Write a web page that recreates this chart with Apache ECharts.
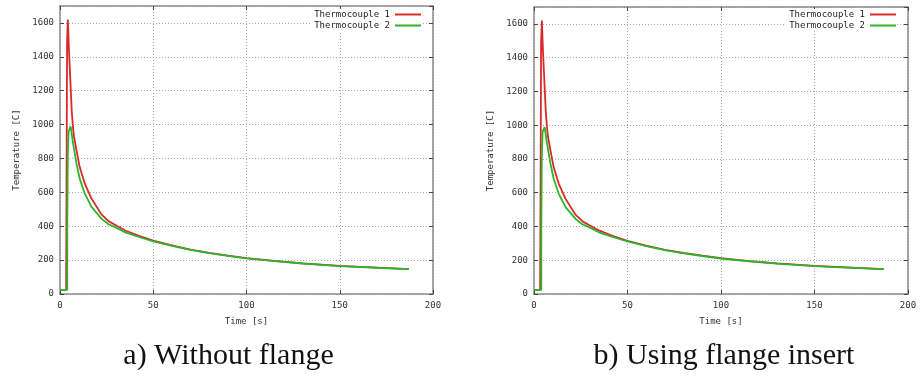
<!DOCTYPE html>
<html>
<head>
<meta charset="utf-8">
<script src="https://cdn.jsdelivr.net/npm/echarts@6/dist/echarts.min.js"></script>
<style>
html,body{margin:0;padding:0;background:#fff;}
#c{width:920px;height:377px;}
</style>
</head>
<body>
<div id="c"></div>
<script>
// ---- data (time in s, temperature in C) ----
const timeTC1 = [0, 3.3, 3.3, 3.8, 3.8, 4.2, 4.2, 4.5, 4.8, 5.3, 5.8, 6.3, 7.0, 7.5, 8.8, 10.5, 13.2, 16.8, 22.2, 26.0, 30.4, 35.0, 42.0, 50, 60, 70, 80, 90, 100, 115, 130, 150, 170, 187];
const tempTC1 = [24, 24, 58, 58, 1490, 1490, 1620, 1615, 1440, 1320, 1200, 1080, 980, 930, 851, 752, 654, 565, 470, 430, 403, 375, 345, 315, 287, 262, 243, 227, 212, 195, 181, 166, 156, 147];
const timeTC2 = [0, 3.9, 3.9, 4.2, 4.2, 4.6, 4.6, 5.0, 5.7, 7.0, 8.8, 10.5, 13.2, 16.8, 22.2, 26.0, 30.4, 35.0, 42.0, 50, 60, 70, 80, 90, 100, 115, 130, 150, 170, 187];
const tempTC2 = [24, 24, 390, 390, 830, 830, 960, 960, 989, 890, 772, 684, 595, 516, 445, 412, 390, 364, 338, 311, 284, 260, 241, 225, 210, 194, 180, 165, 155, 147];
const seriesNames = ['Thermocouple 1', 'Thermocouple 2'];
const captions = ['a) Without flange', 'b) Using flange insert'];
const xAxisName = 'Time [s]';
const yAxisName = 'Temperature [C]';
const xMin = 0, xMax = 200, xStep = 50;
const yMin = 0, yMax = 1700, yStep = 200;

// ---- styling / layout ----
const MONO = '"DejaVu Sans Mono", "Liberation Mono", monospace';
const colors = ['#d92a2a', '#2bb52b'];
const frame = '#8a8a8a';
const panels = [
  {left: 60, top: 6, width: 373, height: 288, legendRight: 498, capX: 228.5},
  {left: 534, top: 7, width: 374, height: 287, legendRight: 23, capX: 724}
];

function pairs(t, v) { return t.map((x, i) => [x, v[i]]); }

const grid = [], xAxis = [], yAxis = [], series = [], legend = [], graphic = [];
panels.forEach((p, k) => {
  grid.push({left: p.left, top: p.top, width: p.width, height: p.height, show: false, containLabel: false});
  const baseX = {
    type: 'value', gridIndex: k, min: xMin, max: xMax, interval: xStep,
    axisLine: {show: true, onZero: false, lineStyle: {color: frame, width: 1.5}},
    axisTick: {show: true, inside: true, length: 4, lineStyle: {color: '#444', width: 1}},
    splitLine: {show: false}
  };
  const baseY = {
    type: 'value', gridIndex: k, min: yMin, max: yMax, interval: yStep,
    axisLine: {show: true, onZero: false, lineStyle: {color: frame, width: 1.5}},
    axisTick: {show: true, inside: true, length: 4, lineStyle: {color: '#444', width: 1}},
    splitLine: {show: false}
  };
  xAxis.push(Object.assign({}, baseX, {
    position: 'bottom',
    name: xAxisName, nameLocation: 'middle', nameGap: 23,
    nameTextStyle: {fontFamily: MONO, fontSize: 9, color: '#333'},
    axisLabel: {show: true, fontFamily: MONO, fontSize: 9, color: '#333', margin: 7,
                formatter: v => String(v)},
    splitLine: {show: true, lineStyle: {color: '#a8a8a8', width: 1, type: [1, 2]}}
  }));
  xAxis.push(Object.assign({}, baseX, {position: 'top', axisLabel: {show: false}}));
  yAxis.push(Object.assign({}, baseY, {
    position: 'left',
    name: yAxisName, nameLocation: 'middle', nameGap: 39, nameRotate: 90,
    nameTextStyle: {fontFamily: MONO, fontSize: 9, color: '#333'},
    axisLabel: {show: true, fontFamily: MONO, fontSize: 9, color: '#333', margin: 6,
                showMaxLabel: false, formatter: v => String(v)},
    splitLine: {show: true, lineStyle: {color: '#a8a8a8', width: 1, type: [1, 2]}}
  }));
  yAxis.push(Object.assign({}, baseY, {position: 'right', axisLabel: {show: false}}));

  series.push({
    name: seriesNames[0], type: 'line', xAxisIndex: 2 * k, yAxisIndex: 2 * k,
    data: pairs(timeTC1, tempTC1), showSymbol: false, symbol: 'none',
    lineStyle: {color: colors[0], width: 1.8}, itemStyle: {color: colors[0]}, z: 3
  });
  series.push({
    name: seriesNames[1], type: 'line', xAxisIndex: 2 * k, yAxisIndex: 2 * k,
    data: pairs(timeTC2, tempTC2), showSymbol: false, symbol: 'none',
    lineStyle: {color: colors[1], width: 1.8}, itemStyle: {color: colors[1]}, z: 4
  });

  legend.push({
    orient: 'vertical', align: 'right', right: p.legendRight, top: 9,
    padding: [1, 1, 1, 3], backgroundColor: '#fff',
    icon: 'rect', itemWidth: 26, itemHeight: 2, itemGap: 2,
    selectedMode: false,
    textStyle: {fontFamily: MONO, fontSize: 9, color: '#222', padding: 0},
    data: seriesNames
  });

  graphic.push({
    type: 'text', x: p.capX, y: 356,
    style: {
      text: captions[k], fontFamily: '"Liberation Serif", "DejaVu Serif", serif',
      fontSize: 30, fill: '#111', align: 'center', verticalAlign: 'middle'
    }
  });
});

const chart = echarts.init(document.getElementById('c'), null, {renderer: 'canvas'});
chart.setOption({
  animation: false,
  backgroundColor: '#fff',
  grid, xAxis, yAxis, series, legend, graphic
});
</script>
</body>
</html>
